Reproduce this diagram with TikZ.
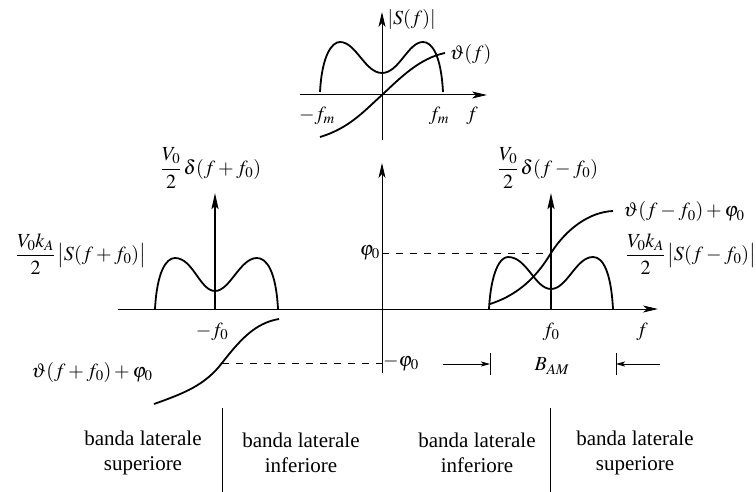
\documentclass[tikz,border=0pt]{standalone}
\usepackage{mathptmx}
\usepackage[no-math]{fontspec}
\setmainfont{Liberation Serif}
\usetikzlibrary{arrows.meta, positioning, calc}
\newcommand{\halfof}[1]{\displaystyle\frac{#1}{2}}

\begin{document}
\begin{tikzpicture}[x=1pt, y=-1pt,
    font=\fontsize{20}{23}\selectfont,
    axis/.style={line width=1pt, -{Stealth[length=15pt, width=7pt, inset=4pt]}},
    curve/.style={line width=1.8pt},
    impulse/.style={line width=2.2pt, -{Stealth[length=16pt, width=7pt, inset=3pt]}},
    guide/.style={line width=0.8pt, dash pattern=on 7pt off 7pt},
    marker/.style={line width=0.8pt},
    bandtext/.style={align=center, inner sep=0pt, font=\fontsize{21}{25}\selectfont}
  ]
  \useasboundingbox (0,0) rectangle (756,492);

  % inset: baseband spectrum
  \coordinate (ihleft) at (300,95);
  \coordinate (ihright) at (487,95);
  \coordinate (ivbot) at (382,140);
  \coordinate (ivtop) at (382,12);
  \draw[axis] (ihleft) -- (ihright);
  \draw[axis] (ivbot) -- (ivtop);
  \draw[curve] (320,92) .. controls (322,55) and (332,42) .. (340,42)
    .. controls (356,42) and (365,73) .. (382,73)
    .. controls (399,73) and (408,42) .. (423,42)
    .. controls (432,42) and (441,55) .. (443,92);
  \draw[curve] (320,137) .. controls (350,128) and (365,110) .. (382,95)
    .. controls (400,78) and (420,58) .. (445,53);
  \node[anchor=west] (absS) at (384,20) {$|S(f)|$};
  \node[anchor=west] (thetaf) at (446,55) {$\vartheta(f)$};
  \node (fmneg) at (317,116) {$-f_m$};
  \node (fmpos) at (439,116) {$f_m$};
  \node (finset) at (472,116) {$f$};

  % main axes
  \coordinate (hleft) at (118,309);
  \coordinate (hright) at (658,309);
  \coordinate (vbot) at (382,373);
  \coordinate (vtop) at (382,163);
  \draw[axis] (hleft) -- (hright);
  \draw[axis] (vbot) -- (vtop);

  % negative frequency side
  \coordinate (lbase) at (215,309);
  \coordinate (ltip) at (215,193);
  \draw[impulse] (lbase) -- (ltip);
  \draw[curve] (155,309) .. controls (157,272) and (166,258) .. (175,258)
    .. controls (193,258) and (200,291) .. (215,291)
    .. controls (230,291) and (240,258) .. (257,258)
    .. controls (267,258) and (276,272) .. (278,309);
  \draw[curve] (154,404) .. controls (185,393) and (205,385) .. (222,363)
    .. controls (240,340) and (255,323) .. (279,319);
  \coordinate (lphase) at (222,363);
  \coordinate (lphaseaxis) at (382,363);
  \draw[guide] (lphase) -- (lphaseaxis);
  \node[inner sep=0pt] (ldelta) at (211,168) {$\halfof{V_0}\,\delta(f+f_0)$};
  \node[inner sep=0pt] (lspec) at (81,254) {$\halfof{V_0k_A}\,\bigl|S(f+f_0)\bigr|$};
  \node (ltheta) at (92,372) {$\vartheta(f+f_0)+\varphi_0$};
  \node (fzneg) at (212,332) {$-f_0$};
  \node[anchor=west, inner sep=1pt] (phineg) at (lphaseaxis) {$-\varphi_0$};

  % positive frequency side
  \coordinate (rbase) at (551,309);
  \coordinate (rtip) at (551,193);
  \draw[impulse] (rbase) -- (rtip);
  \draw[curve] (489,309) .. controls (491,272) and (500,257) .. (508,257)
    .. controls (527,257) and (535,289) .. (551,289)
    .. controls (567,289) and (576,257) .. (593,257)
    .. controls (603,257) and (611,272) .. (613,309);
  \draw[curve] (490,304) .. controls (515,296) and (535,280) .. (551,253)
    .. controls (567,228) and (590,212) .. (613,211);
  \coordinate (rphaseaxis) at (382,253);
  \coordinate (rphase) at (551,253);
  \draw[guide] (rphaseaxis) -- (rphase);
  \node[anchor=east, inner sep=2pt] (phipos) at (rphaseaxis) {$\varphi_0$};
  \node[inner sep=0pt] (rdelta) at (548,168) {$\halfof{V_0}\,\delta(f-f_0)$};
  \node[inner sep=0pt] (rtheta) at (684,212) {$\vartheta(f-f_0)+\varphi_0$};
  \node[inner sep=0pt] (rspec) at (691,254) {$\halfof{V_0k_A}\,\bigl|S(f-f_0)\bigr|$};
  \node (fzpos) at (551,332) {$f_0$};
  \node (fmain) at (642,332) {$f$};

  % bandwidth marker
  \coordinate (bwltop) at (490,353);
  \coordinate (bwlbot) at (490,375);
  \coordinate (bwrtop) at (616,353);
  \coordinate (bwrbot) at (616,375);
  \coordinate (bwlstart) at (443,364);
  \coordinate (bwlend) at (490,364);
  \coordinate (bwrstart) at (660,364);
  \coordinate (bwrend) at (616,364);
  \draw[marker] (bwltop) -- (bwlbot);
  \draw[marker] (bwrtop) -- (bwrbot);
  \draw[marker, -{Stealth[length=9pt, width=5pt, inset=2pt]}] (bwlstart) -- (bwlend);
  \draw[marker, -{Stealth[length=9pt, width=5pt, inset=2pt]}] (bwrstart) -- (bwrend);
  \node (bam) at (552,366) {$B_{AM}$};

  % side band labels
  \coordinate (sepltop) at (222,408);
  \coordinate (seplbot) at (222,492);
  \coordinate (seprtop) at (550,408);
  \coordinate (seprbot) at (550,492);
  \draw[marker] (sepltop) -- (seplbot);
  \draw[marker] (seprtop) -- (seprbot);
  \node[bandtext] (usbl) at (143,453) {banda laterale\\superiore};
  \node[bandtext] (lsbl) at (301,453) {banda laterale\\inferiore};
  \node[bandtext] (lsbr) at (477,453) {banda laterale\\inferiore};
  \node[bandtext] (usbr) at (635,453) {banda laterale\\superiore};
\end{tikzpicture}
\end{document}
